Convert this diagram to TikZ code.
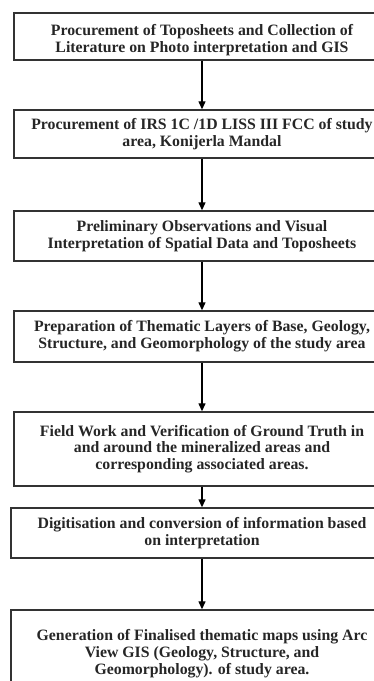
\documentclass[tikz,border=0pt]{standalone}
\usepackage{fontspec}
\setmainfont{Liberation Serif}
\usetikzlibrary{arrows.meta}

\begin{document}
\begin{tikzpicture}[x=1pt, y=-1pt, line width=1.3pt, >={Triangle[width=7pt,length=8pt]},
  stage/.style = {draw=black!80, line width=1.4pt, align=center, inner sep=0pt, minimum width=376,
                  text=black!85, font=\bfseries\fontsize{15.8}{16.8}\selectfont}]
\useasboundingbox (0,0) rectangle (374,681);
\clip (0,0) rectangle (374,681);
\node[stage, minimum height=47] (topo) at (202,36.5) {\rule{0pt}{19pt}Procurement of Toposheets and Collection of\\Literature on Photo interpretation and GIS};
\node[stage, minimum height=48] (irs) at (202,134) {Procurement of IRS 1C /1D LISS III FCC of study\\area, Konijerla Mandal};
\node[stage, minimum height=50] (prelim) at (202,236) {Preliminary Observations and Visual\\Interpretation of Spatial Data and Toposheets};
\node[stage, minimum height=51] (layers) at (202,336.5) {Preparation of Thematic Layers of Base, Geology,\\Structure, and Geomorphology of the study area};
\node[stage, minimum height=74] (field) at (202,449) {Field Work and Verification of Ground Truth in\\and around the mineralized areas and\\corresponding associated areas.};
\node[stage, minimum height=50, minimum width=382] (digit) at (202,533) {Digitisation and conversion of information based\\on interpretation};
\node[stage, minimum height=87, minimum width=382] (maps) at (202,653.5) {Generation of Finalised thematic maps using Arc\\View GIS (Geology, Structure, and\\Geomorphology). of study area.};
\draw[->] (topo) -- (irs);
\draw[->] (irs) -- (prelim);
\draw[->] (prelim) -- (layers);
\draw[->] (layers) -- (field);
\draw[->] (field) -- (digit);
\draw[->] (digit) -- (maps);
\end{tikzpicture}
\end{document}
